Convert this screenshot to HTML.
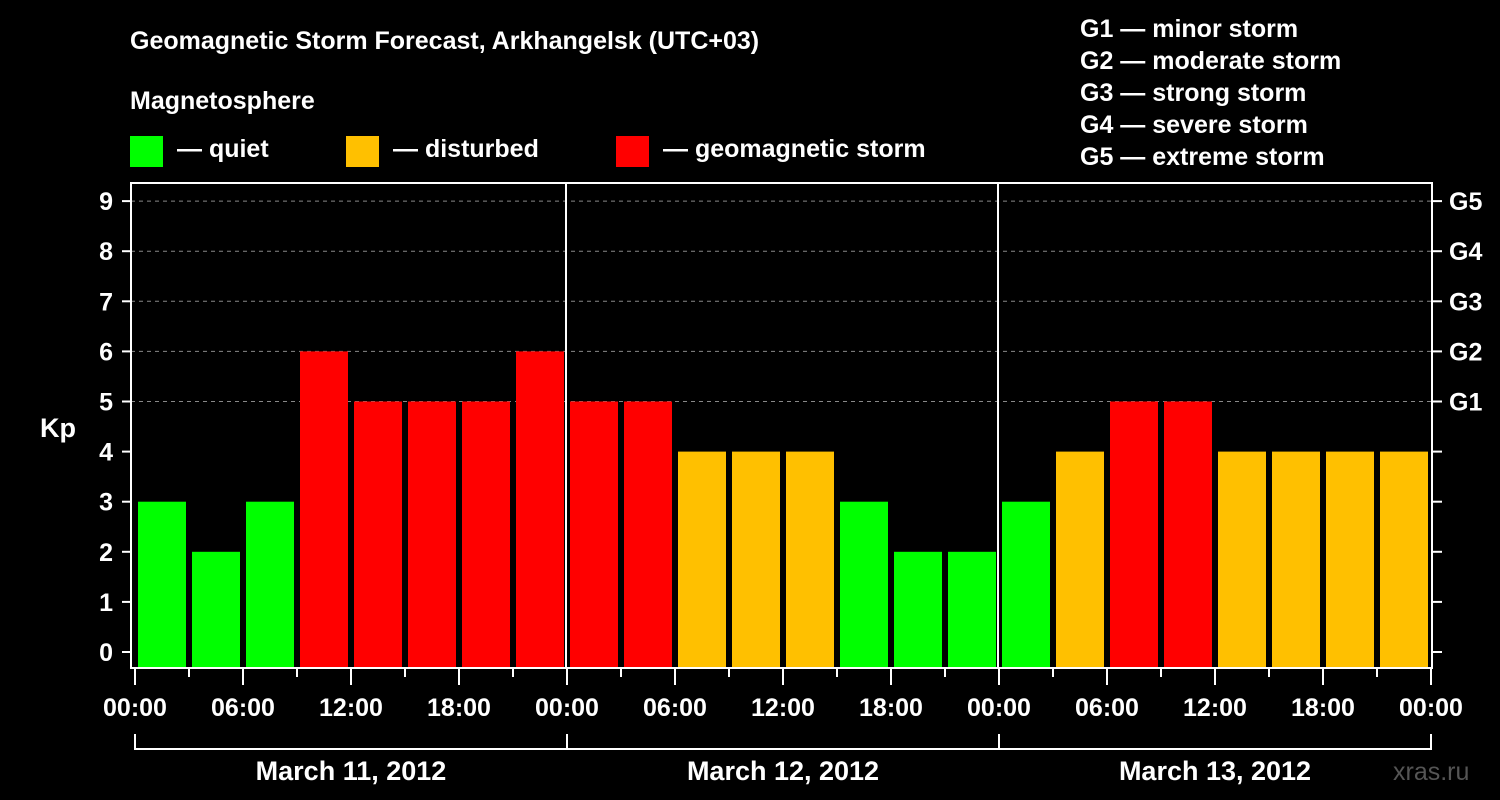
<!DOCTYPE html>
<html><head><meta charset="utf-8"><style>
html,body{margin:0;padding:0;background:#000;width:1500px;height:800px;overflow:hidden}
svg text{font-family:"Liberation Sans",Arial,sans-serif;font-weight:bold;fill:#fff}
</style></head><body>
<svg id="c" width="1500" height="800">
<text x="130" y="49" font-size="25">Geomagnetic Storm Forecast, Arkhangelsk (UTC+03)</text>
<text x="130" y="109" font-size="25">Magnetosphere</text>
<rect x="130" y="136" width="33" height="31" fill="#00ff00"/>
<text x="177" y="157" font-size="25">— quiet</text>
<rect x="346" y="136" width="33" height="31" fill="#ffc000"/>
<text x="393" y="157" font-size="25">— disturbed</text>
<rect x="616" y="136" width="33" height="31" fill="#ff0000"/>
<text x="663" y="157" font-size="25">— geomagnetic storm</text>
<g font-size="25">
<text x="1080" y="37">G1 — minor storm</text>
<text x="1080" y="69">G2 — moderate storm</text>
<text x="1080" y="101">G3 — strong storm</text>
<text x="1080" y="133">G4 — severe storm</text>
<text x="1080" y="165">G5 — extreme storm</text>
</g>
<text x="40" y="437" font-size="27">Kp</text>
<text x="1393" y="780" font-size="25" fill="#555" style="fill:#555;font-weight:normal">xras.ru</text>
<g id="plot"></g>
</svg>
<script>
const kpValues=[3,2,3,6,5,5,5,6,5,5,4,4,4,3,2,2,3,4,5,5,4,4,4,4];
const dayLabels=["March 11, 2012","March 12, 2012","March 13, 2012"];
const yTicks=[0,1,2,3,4,5,6,7,8,9];
const gLabels=["G1","G2","G3","G4","G5"];
const hourLabels=["00:00","06:00","12:00","18:00"];
const NS="http://www.w3.org/2000/svg";
const L=135,R=1431,TOP=183,BOT=668,Y0=652,UNIT=50.1;
const xs=h=>L+h*(R-L)/72;
const ys=v=>Y0-v*UNIT;
const g=document.getElementById('plot');
function mk(t,a){const e=document.createElementNS(NS,t);for(const k in a)e.setAttribute(k,a[k]);g.appendChild(e);return e;}
function col(v){return v>=5?'#ff0000':(v==4?'#ffc000':'#00ff00');}
// grid
yTicks.forEach(v=>{
 if(v>=5){const l=mk('line',{x1:131,x2:1432,y1:ys(v),y2:ys(v),stroke:'#888','stroke-dasharray':'4,4','stroke-width':1});
 
 }
 const t=mk('line',{x1:122,x2:131,y1:ys(v),y2:ys(v),stroke:'#fff','stroke-width':2});
 
 
 const t2=mk('line',{x1:1432,x2:1442,y1:ys(v),y2:ys(v),stroke:'#fff','stroke-width':2});
 
 
 const tx=mk('text',{x:113,y:ys(v)+9,'font-size':25,'text-anchor':'end'});tx.textContent=v;
 
 
});
gLabels.forEach((s,i)=>{
 const tx=mk('text',{x:1449,y:ys(5+i)+9,'font-size':25});tx.textContent=s;
 
 
});
// bars
kpValues.forEach((v,i)=>{
 const x0=xs(i*3)+3,x1=xs(i*3+3)-3;
 const b=mk('rect',{x:x0,y:ys(v),width:x1-x0,height:BOT-ys(v),fill:col(v)});
 
 
});
// day separators
[1,2].forEach(d=>{
 const l=mk('line',{x1:xs(d*24)-1,x2:xs(d*24)-1,y1:TOP,y2:BOT,stroke:'#fff','stroke-width':2});
 
 
});
// frame
const f=mk('rect',{x:131,y:TOP,width:1301,height:BOT-TOP,fill:'none',stroke:'#fff','stroke-width':2});


// x ticks
for(let h=0;h<=72;h+=3){
 const major=h%6==0;
 const t=mk('line',{x1:xs(h),x2:xs(h),y1:BOT,y2:major?685:677,stroke:'#fff','stroke-width':2});
 
 
 if(major){const tx=mk('text',{x:xs(h),y:716,'font-size':25,'text-anchor':'middle'});tx.textContent=hourLabels[(h/6)%4];
 
 }
}
// date brackets
const br=mk('line',{x1:xs(0),x2:xs(72),y1:749,y2:749,stroke:'#fff','stroke-width':2});


for(let d=0;d<=3;d++){
 const v=mk('line',{x1:xs(d*24),x2:xs(d*24),y1:734,y2:750,stroke:'#fff','stroke-width':2});
 
 
}
dayLabels.forEach((s,d)=>{
 const tx=mk('text',{x:xs(d*24+12),y:780,'font-size':27,'text-anchor':'middle'});tx.textContent=s;
 
 
});
</script>
</body></html>
